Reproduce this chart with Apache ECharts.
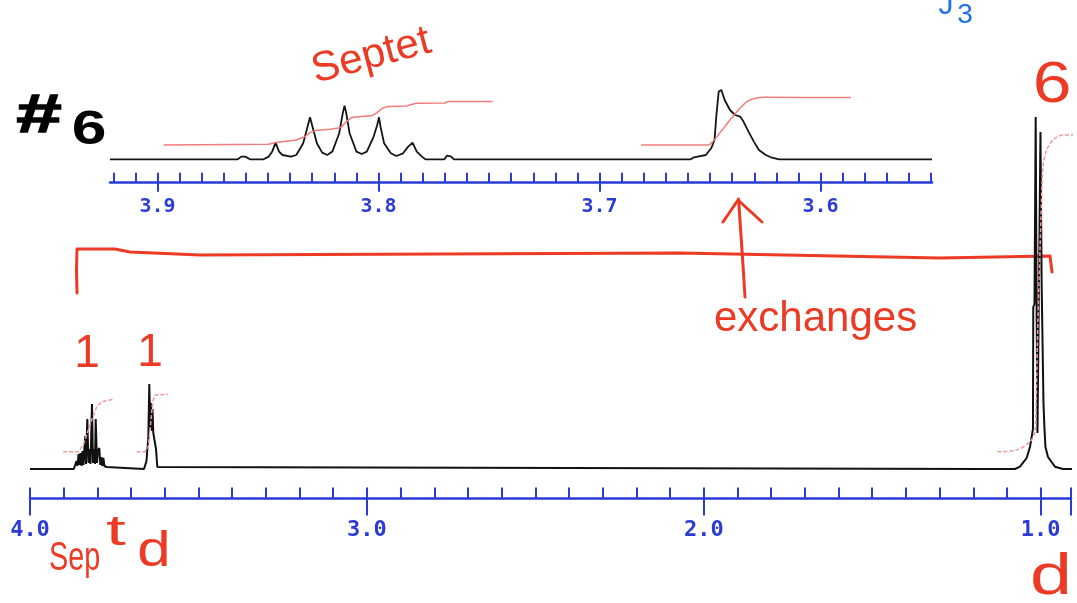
<!DOCTYPE html>
<html><head><meta charset="utf-8">
<script src="https://cdn.jsdelivr.net/npm/echarts@6/dist/echarts.min.js"></script>
<style>html,body{margin:0;padding:0;background:#fff}#c{width:1077px;height:603px}</style>
</head><body><div id="c"></div>
<script>
// ---- Main spectrum (chemical shift ppm, intensity) ----
const mainPpm = [4.0000,3.8700,3.8664,3.8620,3.8590,3.8560,3.8531,3.8501,3.8471,3.8442,3.8412,3.8382,3.8359,3.8338,3.8299,3.8264,3.8234,3.8204,3.8160,3.8130,3.8100,3.8071,3.8050,3.8011,3.7982,3.7943,3.7913,3.7884,3.7854,3.7824,3.7789,3.7759,3.7729,3.7676,
  3.6616,3.6587,3.6542,3.6518,3.6489,3.6459,3.6429,3.6408,3.6388,3.6364,3.6340,3.6290,3.6260,3.6221,3.6186,
  1.1743,1.1714,1.1684,1.1595,1.1565,1.1536,
  1.0763,1.0614,1.0416,1.0318,1.0229,1.0220,1.0184,1.0148,1.0119,1.0095,1.0050,1.0006,0.9970,0.9932,0.9917,0.9887,0.9858,0.9783,0.9576,0.9338,0.8923];
const mainInt = [0,0,2,8,3,15,4,16,3,18,4,22,33,5,50,6,20,5,65,6,20,5,50,6,18,21,4,12,3,11,3,4,2,0,
  0,2,8,19,30,85,40,66,38,60,36,34,20,2,0,
  0,2,0,0,2,0,
  0,2.3,11,22,40,162,165,352,150,36,36,337,182,180,66,40,22,12,2.3,0,0];

// ---- Main integral curves ----
const mainInteg1Ppm = [3.9012,3.8566,3.8418,3.8317,3.8169,3.8020,3.7872,3.7527];
const mainInteg1Val = [17.3,17.3,24,34,49,62.3,67.3,69.7];
const mainInteg2Ppm = [3.6833,3.6587,3.6489,3.6417,3.6358,3.6290,3.5895];
const mainInteg2Val = [17.3,17.3,22.3,45.7,67.3,74,74.7];
const mainInteg3Ppm = [1.1285,1.0712,1.0318,1.0169,1.0140,1.0080,0.9991,0.9932,0.9822,0.9635,0.9338,0.8923];
const mainInteg3Val = [17.3,19,27.3,37.3,60,150,250,302,319,329,334,334];

// ---- Inset (expanded 3.55 - 3.92 ppm) ----
const insetPpm = [3.9215,3.8637,3.8621,3.8603,3.8582,3.8520,3.8497,3.8481,3.8466,3.8450,3.8435,3.8396,3.8372,3.8341,3.8321,3.8310,3.8299,3.8279,3.8255,3.8232,3.8209,3.8178,3.8162,3.8154,3.8146,3.8131,3.8100,3.8076,3.8053,3.8022,3.8006,3.7998,3.7991,3.7975,3.7944,3.7920,3.7889,3.7866,3.7846,3.7827,3.7804,3.7788,3.7702,3.7690,3.7671,3.7659,
  3.6588,3.6573,3.6519,3.6495,3.6480,3.6472,3.6461,3.6449,3.6434,3.6410,3.6387,3.6364,3.6349,3.6326,3.6302,3.6279,3.6248,3.6225,3.6187,3.5496];
const insetInt = [0,0,2.7,2.7,0,0,2.7,7.7,16.7,7.7,4.3,2.7,4.3,16,32.7,42,32.7,16,6.7,4.3,7.7,26,46,53.7,46,26,7.7,5.3,7.7,22.7,34.3,42,32.7,16,6,3.3,6,12.7,16.7,7.7,2.7,0,0,3.7,2.7,0,
  0,2,4.3,11,19.3,42.7,67.7,69.3,59.3,49.3,44.3,42.7,37.7,27.7,17.7,9.3,4.3,2,0,0];
const insetInteg1Ppm = [3.8972,3.8497,3.8466,3.8372,3.8333,3.8310,3.8287,3.8217,3.8170,3.8146,3.8123,3.8029,3.8006,3.7983,3.7959,3.7874,3.7843,3.7827,3.7702,3.7687,3.7484];
const insetInteg1Val = [14.3,15,16.7,19.3,22.7,26.7,28.7,30,31.7,37.7,41.7,43.7,46.7,51,52.7,53.3,55.3,56,56.3,57.7,57.7];
const insetInteg2Ppm = [3.6812,3.6511,3.6488,3.6457,3.6410,3.6372,3.6333,3.6295,3.6256,3.5863];
const insetInteg2Val = [14.3,14.3,17.7,26,39.3,49.3,57.7,61,62,61.7];

// ---- Axis ticks / labels ----
const mainMajorTicks = [4.0,3.0,2.0,1.0,0.91];
const mainLabels = [4.0,3.0,2.0,1.0];
const insetMajorTicks = [3.9,3.8,3.7,3.6];
const insetLabels = [3.9,3.8,3.7,3.6];
const mainMinorTicks = [0.91];
for (let i = 10; i <= 40; i++) mainMinorTicks.push(i / 10);
const insetMinorTicks = [];
for (let i = 355; i <= 392; i++) insetMinorTicks.push(i / 100);

const BLUE = '#2b3bd6', RED = '#ec3a24', PINK = '#f07c7c', PINK2 = '#f29a9a';
const zip = (a, b) => a.map((v, i) => [v, b[i]]);

const chart = echarts.init(document.getElementById('c'));
const lbl = (size) => ({fontFamily: 'DejaVu Sans Mono', fontWeight: 'bold', fontSize: size, color: BLUE});

chart.setOption({
  animation: false,
  grid: [
    {left: 30, top: 69, width: 1041, height: 400},
    {left: 110, top: 59.3, width: 822, height: 100}
  ],
  xAxis: [
    {type: 'value', gridIndex: 0, min: 0.91, max: 4.0, inverse: true, position: 'bottom', offset: 29.5,
     axisLine: {onZero: false, lineStyle: {color: BLUE, width: 2.5}},
     axisTick: {customValues: mainMinorTicks, inside: true, length: 11, lineStyle: {color: BLUE, width: 2}},
     axisLabel: {show: false}, splitLine: {show: false}},
    {type: 'value', gridIndex: 0, min: 0.91, max: 4.0, inverse: true, position: 'bottom', offset: 29.5,
     axisLine: {show: false, onZero: false},
     axisTick: {customValues: mainMajorTicks, inside: false, length: 17, lineStyle: {color: BLUE, width: 2}},
     axisLabel: Object.assign({customValues: mainLabels, margin: 21, formatter: v => v.toFixed(1)}, lbl(22)),
     splitLine: {show: false}},
    {type: 'value', gridIndex: 1, min: 3.5496, max: 3.9215, inverse: true, position: 'bottom', offset: 23.4,
     axisLine: {onZero: false, lineStyle: {color: BLUE, width: 2.5}},
     axisTick: {customValues: insetMinorTicks, inside: true, length: 10, lineStyle: {color: BLUE, width: 2}},
     axisLabel: {show: false}, splitLine: {show: false}},
    {type: 'value', gridIndex: 1, min: 3.5496, max: 3.9215, inverse: true, position: 'bottom', offset: 23.4,
     axisLine: {show: false, onZero: false},
     axisTick: {customValues: insetMajorTicks, inside: false, length: 9, lineStyle: {color: BLUE, width: 2}},
     axisLabel: Object.assign({customValues: insetLabels, margin: 14, formatter: v => v.toFixed(1)}, lbl(20)),
     splitLine: {show: false}}
  ],
  yAxis: [
    {type: 'value', gridIndex: 0, min: 0, max: 400, show: false},
    {type: 'value', gridIndex: 1, min: 0, max: 100, show: false}
  ],
  series: [
    {type: 'line', xAxisIndex: 0, yAxisIndex: 0, data: zip(mainPpm, mainInt), showSymbol: false, clip: false, z: 3,
     lineStyle: {color: '#111', width: 2}},
    {type: 'line', xAxisIndex: 0, yAxisIndex: 0, data: zip(mainInteg1Ppm, mainInteg1Val), showSymbol: false, clip: false, z: 4,
     lineStyle: {color: PINK2, width: 1.5, type: [4, 2]}},
    {type: 'line', xAxisIndex: 0, yAxisIndex: 0, data: zip(mainInteg2Ppm, mainInteg2Val), showSymbol: false, clip: false, z: 4,
     lineStyle: {color: PINK2, width: 1.5, type: [4, 2]}},
    {type: 'line', xAxisIndex: 0, yAxisIndex: 0, data: zip(mainInteg3Ppm, mainInteg3Val), showSymbol: false, clip: false, z: 4, smooth: 0.3,
     lineStyle: {color: PINK2, width: 1.5, type: [4, 2]}},
    {type: 'line', xAxisIndex: 2, yAxisIndex: 1, data: zip(insetPpm, insetInt), showSymbol: false, clip: false, z: 3,
     lineStyle: {color: '#151515', width: 1.8}},
    {type: 'line', xAxisIndex: 2, yAxisIndex: 1, data: zip(insetInteg1Ppm, insetInteg1Val), showSymbol: false, clip: false, z: 4,
     lineStyle: {color: PINK, width: 1.5}},
    {type: 'line', xAxisIndex: 2, yAxisIndex: 1, data: zip(insetInteg2Ppm, insetInteg2Val), showSymbol: false, clip: false, z: 4, smooth: 0.3,
     lineStyle: {color: PINK, width: 1.5}}
  ],
  graphic: [
    {type: 'text', x: 39, y: 117, scaleX: 1.5, style: {text: '#', font: 'bold 54px "Liberation Sans"', fill: '#000', stroke: '#000', lineWidth: 1.5, align: 'center', verticalAlign: 'middle'}},
    {type: 'text', x: 89, y: 131, scaleX: 1.3, style: {text: '6', font: 'bold 48px "Liberation Sans"', fill: '#000', align: 'center', verticalAlign: 'middle'}},
    {type: 'text', x: 318, y: 92, rotation: 0.26, style: {text: 'Septet', font: '42px "Liberation Sans"', fill: RED, align: 'left', verticalAlign: 'bottom'}},
    {type: 'text', x: 946, y: 6, style: {text: 'J', font: '30px "Liberation Sans"', fill: '#1f6fe5', align: 'center', verticalAlign: 'middle'}},
    {type: 'text', x: 965, y: 15, style: {text: '3', font: '28px "Liberation Sans"', fill: '#1f6fe5', align: 'center', verticalAlign: 'middle'}},
    {type: 'text', x: 1052, y: 86, scaleX: 1.2, style: {text: '6', font: '58px "Liberation Sans"', fill: RED, align: 'center', verticalAlign: 'middle'}},
    {type: 'text', x: 87, y: 354, style: {text: '1', font: '46px "Liberation Sans"', fill: RED, align: 'center', verticalAlign: 'middle'}},
    {type: 'text', x: 150, y: 353, style: {text: '1', font: '46px "Liberation Sans"', fill: RED, align: 'center', verticalAlign: 'middle'}},
    {type: 'text', x: 49, y: 559, scaleX: 0.72, style: {text: 'Sep', font: '40px "Liberation Sans"', fill: RED, align: 'left', verticalAlign: 'middle'}},
    {type: 'text', x: 116, y: 533, scaleX: 1.7, style: {text: 't', font: '42px "Liberation Sans"', fill: RED, align: 'center', verticalAlign: 'middle'}},
    {type: 'text', x: 154, y: 552, scaleX: 1.2, style: {text: 'd', font: '50px "Liberation Sans"', fill: RED, align: 'center', verticalAlign: 'middle'}},
    {type: 'text', x: 1051, y: 578, scaleX: 1.3, style: {text: 'd', font: '58px "Liberation Sans"', fill: RED, align: 'center', verticalAlign: 'middle'}},
    {type: 'text', x: 714, y: 319, style: {text: 'exchanges', font: '42px "Liberation Sans"', fill: RED, align: 'left', verticalAlign: 'middle'}},
    {type: 'polyline', shape: {points: [[77,293],[76.5,270],[77,249],[115,249],[130,252],[200,255],[680,253],[940,258],[1050,256],[1052,272]]},
     style: {stroke: RED, lineWidth: 3, fill: null, lineCap: 'round', lineJoin: 'round'}},
    {type: 'polyline', shape: {points: [[745,297],[742,250],[738.5,199]]},
     style: {stroke: RED, lineWidth: 3, fill: null, lineCap: 'round'}},
    {type: 'polyline', shape: {points: [[723,222],[738,200],[762,222]]},
     style: {stroke: RED, lineWidth: 3, fill: null, lineCap: 'round', lineJoin: 'round'}}
  ]
});
</script></body></html>
